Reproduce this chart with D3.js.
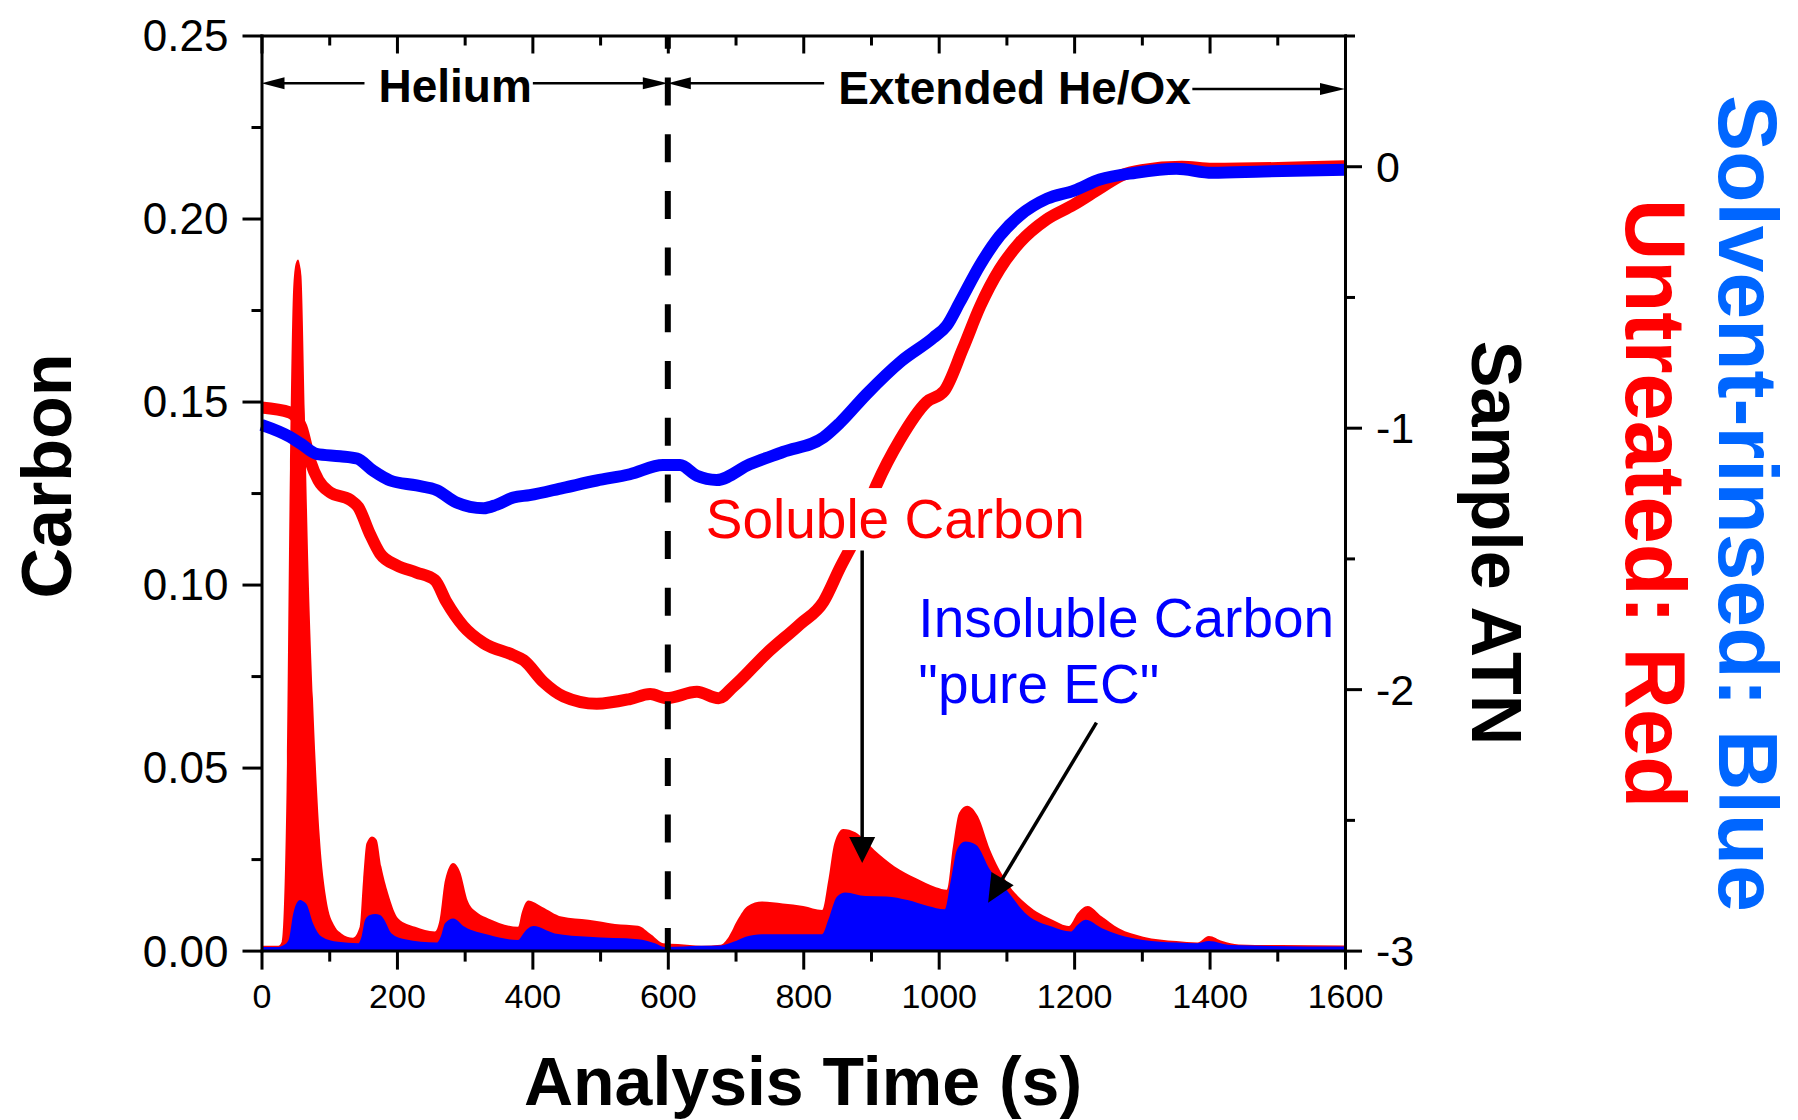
<!DOCTYPE html>
<html><head><meta charset="utf-8">
<script src="https://cdn.jsdelivr.net/npm/d3@7"></script>
<style>
html,body{margin:0;padding:0;background:#fff;}
svg{display:block;}
text{font-family:"Liberation Sans",Arial,Helvetica,sans-serif;}
</style>
</head><body>
<svg id="chart" width="1798" height="1120"></svg>
<script>
// ---------- data ----------
const timeTicks = [0,200,400,600,800,1000,1200,1400,1600];
const timeMinorTicks = [100,300,500,700,900,1100,1300,1500];
const carbonTicks = [0,0.05,0.10,0.15,0.20,0.25];
const carbonMinorTicks = [0.025,0.075,0.125,0.175,0.225];
const atnTicks = [0,-1,-2,-3];
const atnMinorTicks = [0.5,-0.5,-1.5,-2.5];

// FID carbon signal [time s, carbon]
const untreatedFID = [[0,0.0013],[25,0.0013],[30,0.0025],[37,0.0439],[42,0.1317],[47,0.1818],[51,0.1880],[54,0.1888],[57,0.1870],[59,0.1843],[64,0.1468],[69,0.1066],[76,0.0689],[86,0.0313],[96,0.0138],[108,0.0067],[118,0.0047],[135,0.0035],[145,0.0065],[150,0.0193],[155,0.0293],[163,0.0312],[170,0.0303],[177,0.0230],[187,0.0157],[202,0.0088],[227,0.0065],[256,0.0052],[263,0.0084],[271,0.0193],[283,0.0239],[293,0.0216],[305,0.0134],[320,0.0102],[335,0.0088],[379,0.0065],[384,0.0102],[394,0.0137],[414,0.0120],[443,0.0093],[483,0.0084],[522,0.0073],[556,0.0068],[576,0.0043],[593,0.0020],[615,0.0018],[650,0.0013],[678,0.0016],[690,0.0038],[703,0.0084],[718,0.0122],[739,0.0134],[770,0.0129],[800,0.0122],[828,0.0111],[837,0.0193],[846,0.0294],[859,0.0332],[877,0.0323],[905,0.0275],[935,0.0230],[966,0.0198],[996,0.0173],[1012,0.0166],[1021,0.0284],[1030,0.0376],[1042,0.0396],[1058,0.0367],[1076,0.0275],[1100,0.0189],[1131,0.0125],[1168,0.0084],[1192,0.0067],[1205,0.0102],[1220,0.0122],[1241,0.0093],[1266,0.0061],[1302,0.0038],[1351,0.0026],[1382,0.0022],[1399,0.0040],[1419,0.0026],[1443,0.0017],[1505,0.0015],[1600,0.0014]];
const rinsedFID = [[0,0.0010],[25,0.0010],[33,0.0015],[40,0.0029],[47,0.0102],[52,0.0130],[57,0.0138],[62,0.0134],[67,0.0125],[76,0.0075],[89,0.0038],[113,0.0024],[143,0.0020],[148,0.0040],[153,0.0084],[160,0.0097],[168,0.0100],[175,0.0097],[180,0.0088],[192,0.0047],[212,0.0031],[259,0.0022],[265,0.0040],[271,0.0075],[283,0.0088],[300,0.0065],[335,0.0043],[379,0.0029],[385,0.0042],[392,0.0058],[402,0.0067],[433,0.0047],[483,0.0038],[556,0.0031],[581,0.0020],[595,0.0010],[650,0.0013],[678,0.0014],[697,0.0024],[715,0.0038],[739,0.0045],[770,0.0045],[828,0.0045],[837,0.0084],[850,0.0148],[862,0.0159],[892,0.0149],[923,0.0148],[954,0.0138],[984,0.0122],[1009,0.0113],[1018,0.0193],[1027,0.0275],[1039,0.0298],[1055,0.0289],[1076,0.0220],[1100,0.0166],[1131,0.0097],[1168,0.0065],[1195,0.0052],[1205,0.0070],[1217,0.0084],[1241,0.0061],[1266,0.0043],[1302,0.0029],[1351,0.0022],[1382,0.0020],[1399,0.0026],[1431,0.0015],[1600,0.0011]];

// Sample ATN [time s, ATN]
const untreatedATN = [[0,-0.923],[42,-0.942],[59,-0.998],[72,-1.128],[84,-1.201],[101,-1.247],[131,-1.276],[143,-1.304],[160,-1.406],[175,-1.481],[200,-1.527],[229,-1.554],[256,-1.583],[273,-1.666],[298,-1.759],[328,-1.824],[372,-1.870],[387,-1.889],[416,-1.972],[446,-2.028],[495,-2.056],[544,-2.038],[574,-2.019],[598,-2.034],[643,-2.010],[675,-2.035],[697,-1.990],[746,-1.863],[795,-1.752],[830,-1.665],[854,-1.537],[879,-1.411],[908,-1.220],[943,-1.045],[982,-0.902],[1008,-0.860],[1036,-0.696],[1061,-0.537],[1090,-0.394],[1120,-0.291],[1159,-0.204],[1199,-0.148],[1238,-0.085],[1270,-0.035],[1300,-0.015],[1359,-0.002],[1404,-0.010],[1600,0.0]];
const rinsedATN = [[0,-0.989],[42,-1.035],[59,-1.063],[81,-1.100],[116,-1.109],[141,-1.118],[165,-1.165],[190,-1.202],[229,-1.221],[259,-1.239],[288,-1.286],[328,-1.308],[347,-1.295],[372,-1.267],[396,-1.258],[446,-1.230],[495,-1.202],[544,-1.178],[593,-1.143],[618,-1.143],[643,-1.184],[672,-1.200],[721,-1.140],[770,-1.093],[830,-1.037],[854,-0.982],[893,-0.873],[945,-0.745],[992,-0.656],[1012,-0.609],[1031,-0.521],[1061,-0.378],[1090,-0.267],[1120,-0.188],[1160,-0.124],[1200,-0.093],[1238,-0.051],[1291,-0.025],[1351,-0.010],[1404,-0.025],[1479,-0.020],[1600,-0.013]];

const phaseBoundary = 600;
const phaseLabels = [{text:"Helium", x:286}, {text:"Extended He/Ox", x:1112}];
const solubleArrow = {from:[887,0.1093], to:[887,0.0239]};
const ecArrow = {from:[1233,0.0623], to:[1073,0.0131]};

// ---------- layout ----------
const L = 261.5, R = 1345, T = 35.5, B = 950.6;
const svg = d3.select("#chart");
svg.append("rect").attr("width",1798).attr("height",1120).attr("fill","#fff");

const x = d3.scaleLinear().domain([0,1600]).range([L,R]);
const yC = d3.scaleLinear().domain([0,0.25]).range([B,T]);
const yA = d3.scaleLinear().domain([-3,0.5]).range([B,T]);

const RED = "#ff0000", BLUE = "#0000ff";

// areas
const areaC = d3.area().x(d=>x(d[0])).y0(yC(0)).y1(d=>yC(d[1])).curve(d3.curveMonotoneX);
svg.append("path").datum(untreatedFID).attr("d",areaC).attr("fill",RED);
svg.append("path").datum(rinsedFID).attr("d",areaC).attr("fill",BLUE);

// ATN lines
const lineA = d3.line().x(d=>x(d[0])).y(d=>yA(d[1])).curve(d3.curveMonotoneX);
svg.append("path").datum(untreatedATN).attr("d",lineA).attr("fill","none").attr("stroke",RED).attr("stroke-width",12).attr("stroke-linejoin","round");
svg.append("path").datum(rinsedATN).attr("d",lineA).attr("fill","none").attr("stroke",BLUE).attr("stroke-width",12).attr("stroke-linejoin","round");

// dashed phase boundary
svg.append("line").attr("x1",x(phaseBoundary)).attr("x2",x(phaseBoundary)).attr("y1",T).attr("y2",B)
  .attr("stroke","#000").attr("stroke-width",6).attr("stroke-dasharray","28,28.7").attr("stroke-dashoffset",14.7);

// axes
function styleAxis(g, removeDomain){
  g.attr("color","#000");
  g.selectAll("line").attr("stroke-width",3);
  g.selectAll(".domain").attr("stroke-width",3).attr("stroke-linecap","square");
  if(removeDomain) g.select(".domain").remove();
  g.selectAll("text").attr("font-family",'"Liberation Sans",Arial,sans-serif');
}
// bottom
let g = svg.append("g").attr("transform",`translate(0,${B})`)
  .call(d3.axisBottom(x).tickValues(timeTicks).tickSize(19).tickSizeOuter(0).tickPadding(14).tickFormat(d3.format("d")));
styleAxis(g,false); g.selectAll("text").attr("font-size",34);
g = svg.append("g").attr("transform",`translate(0,${B})`)
  .call(d3.axisBottom(x).tickValues(timeMinorTicks).tickSize(11).tickFormat(""));
styleAxis(g,true);
// top (inward ticks)
g = svg.append("g").attr("transform",`translate(0,${T})`)
  .call(d3.axisBottom(x).tickValues(timeTicks).tickSize(18).tickSizeOuter(0).tickFormat(""));
styleAxis(g,false);
g = svg.append("g").attr("transform",`translate(0,${T})`)
  .call(d3.axisBottom(x).tickValues(timeMinorTicks).tickSize(10).tickFormat(""));
styleAxis(g,true);
// left
g = svg.append("g").attr("transform",`translate(${L},0)`)
  .call(d3.axisLeft(yC).tickValues(carbonTicks).tickSize(19).tickSizeOuter(0).tickPadding(14).tickFormat(d3.format(".2f")));
styleAxis(g,false); g.selectAll("text").attr("font-size",44).attr("dy","0.35em");
g = svg.append("g").attr("transform",`translate(${L},0)`)
  .call(d3.axisLeft(yC).tickValues(carbonMinorTicks).tickSize(10).tickFormat(""));
styleAxis(g,true);
// right
g = svg.append("g").attr("transform",`translate(${R},0)`)
  .call(d3.axisRight(yA).tickValues(atnTicks).tickSize(17).tickSizeOuter(0).tickPadding(14).tickFormat(d=>String(d)));
styleAxis(g,false); g.selectAll("text").attr("font-size",43).attr("dy","0.35em");
g = svg.append("g").attr("transform",`translate(${R},0)`)
  .call(d3.axisRight(yA).tickValues(atnMinorTicks).tickSize(10).tickFormat(""));
styleAxis(g,true);

// arrow helper
function arrow(x1,y1,x2,y2,headLen,headHalf,w){
  const dx=x2-x1, dy=y2-y1, len=Math.hypot(dx,dy), ux=dx/len, uy=dy/len;
  const bx=x2-ux*headLen, by=y2-uy*headLen;
  svg.append("line").attr("x1",x1).attr("y1",y1).attr("x2",bx+ux*2).attr("y2",by+uy*2)
    .attr("stroke","#000").attr("stroke-width",w);
  svg.append("path").attr("d",`M${x2},${y2}L${bx-uy*headHalf},${by+ux*headHalf}L${bx+uy*headHalf},${by-ux*headHalf}Z`).attr("fill","#000");
}

// phase labels with arrows
const phaseY = [83.3, 89];
phaseLabels.forEach((p,i)=>{
  const t = svg.append("text").attr("x",x(p.x)).attr("y",i===0?101.7:104).attr("text-anchor","middle")
    .attr("font-size",46).attr("font-weight","bold").text(p.text);
  const bb = t.node().getBBox();
  const x0 = i===0 ? x(0) : x(phaseBoundary);
  const x1 = i===0 ? x(phaseBoundary) : x(1600);
  arrow(bb.x-14, 83.3, x0, 83.3, 23, 6, 2.5);
  arrow(bb.x+bb.width+1, phaseY[i], x1, phaseY[i], 25, 6, 2.5);
});

// Soluble Carbon label with white backing
const solX = x(656), solY = yC(0.1127);
svg.append("rect").attr("x",solX-6).attr("y",solY-50).attr("width",392).attr("height",62).attr("fill","#fff");
svg.append("text").attr("x",solX).attr("y",solY).attr("font-size",55).attr("fill",RED).text("Soluble Carbon");
arrow(x(solubleArrow.from[0]), yC(solubleArrow.from[1]), x(solubleArrow.to[0]), yC(solubleArrow.to[1]), 26, 13, 3.5);

svg.append("text").attr("x",x(970)).attr("y",yC(0.0858)).attr("font-size",55).attr("fill",BLUE).text("Insoluble Carbon");
svg.append("text").attr("x",x(970)).attr("y",yC(0.0676)).attr("font-size",55).attr("fill",BLUE).text('"pure EC"');
arrow(x(ecArrow.from[0]), yC(ecArrow.from[1]), x(ecArrow.to[0]), yC(ecArrow.to[1]), 28, 13, 3.5);

// axis titles
svg.append("text").attr("transform","translate(71,476) rotate(-90)").attr("text-anchor","middle")
  .attr("font-size",70).attr("font-weight","bold").text("Carbon");
svg.append("text").attr("x",803).attr("y",1105).attr("text-anchor","middle")
  .attr("font-size",68).attr("font-weight","bold").text("Analysis Time (s)");
svg.append("text").attr("transform","translate(1472,543) rotate(90)").attr("text-anchor","middle")
  .attr("font-size",70).attr("font-weight","bold").text("Sample ATN");
svg.append("text").attr("transform","translate(1626,503.5) rotate(90)").attr("text-anchor","middle")
  .attr("font-size",85).attr("font-weight","bold").attr("fill",RED).text("Untreated: Red");
svg.append("text").attr("transform","translate(1719,503.5) rotate(90)").attr("text-anchor","middle")
  .attr("font-size",84).attr("font-weight","bold").attr("fill","#0066ff").text("Solvent-rinsed: Blue");
</script>
</body></html>
